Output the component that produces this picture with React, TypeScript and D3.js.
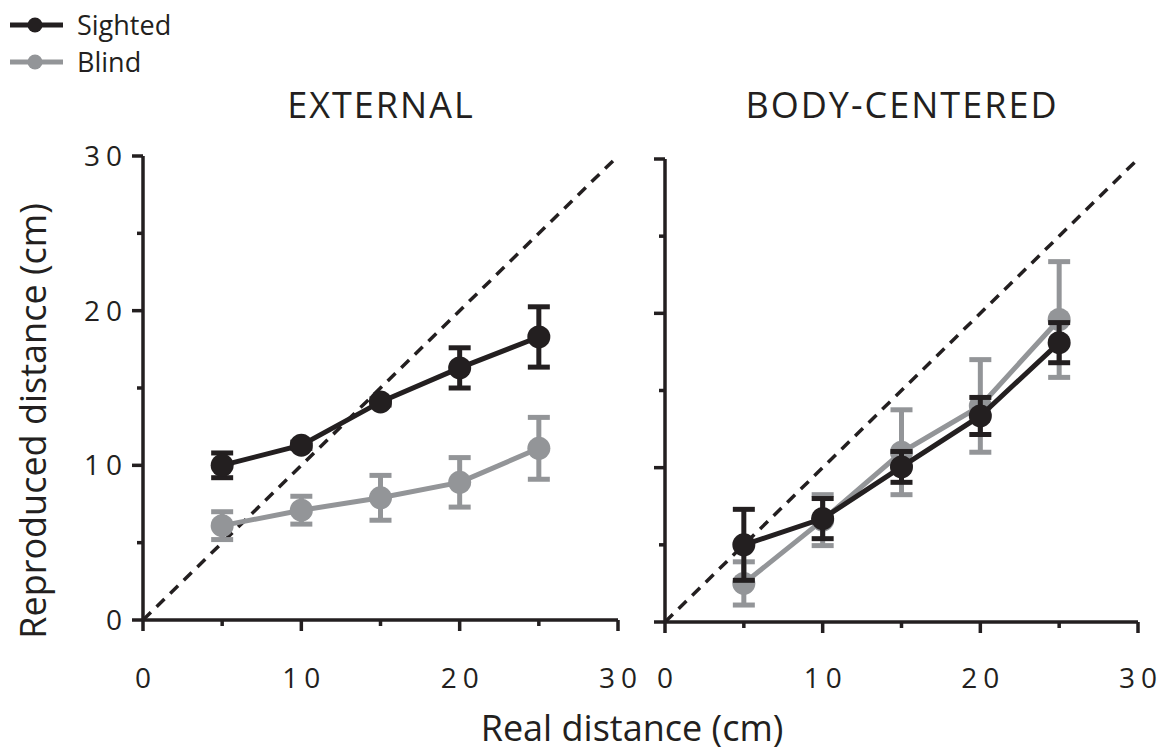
import React from "react";
import * as d3 from "d3";

// ---- Data ----
const realDistance = [5, 10, 15, 20, 25];

const externalSighted = [10.0, 11.3, 14.1, 16.3, 18.3];
const externalSightedErr = [0.8, 0.2, 0.2, 1.3, 1.95];
const externalBlind = [6.1, 7.1, 7.9, 8.9, 11.1];
const externalBlindErr = [0.9, 0.9, 1.45, 1.6, 2.0];

const bodySighted = [5.0, 6.7, 10.05, 13.35, 18.1];
const bodySightedErr = [2.3, 1.3, 1.0, 1.2, 1.3];
const bodyBlind = [2.5, 6.6, 11.0, 14.0, 19.6];
const bodyBlindErr = [1.4, 1.65, 2.75, 3.0, 3.75];

const majorTicks = [0, 10, 20, 30];
const minorTicks = [5, 15, 25];
const tickLabels = ["0", "10", "20", "30"];
const panelTitles = ["EXTERNAL", "BODY-CENTERED"];
const seriesNames = ["Sighted", "Blind"];

const BLACK = "#231f20";
const GRAY = "#939598";
const FONT = "'Open Sans', sans-serif";

type Series = { name: string; values: number[]; errs: number[]; color: string };

type PanelProps = {
  x0: number; x1: number; y0: number; y1: number;
  title: string; titleX: number;
  showYLabels: boolean;
  series: Series[];
};

function Panel({ x0, x1, y0, y1, title, titleX, showYLabels, series }: PanelProps) {
  const x = d3.scaleLinear().domain([0, 30]).range([x0, x1]);
  const y = d3.scaleLinear().domain([0, 30]).range([y0, y1]);
  const line = d3.line<number>().x((_, i) => x(realDistance[i])).y((v) => y(v));
  const capHalf = 11;
  const axisW = 3.5;
  const majorLen = 11;
  const minorLen = 6;
  return (
    <g>
      <text x={titleX} y={118} textAnchor="middle" fontFamily={FONT} fontSize={36}
        letterSpacing={2} fill={BLACK}>{title}</text>
      {/* identity line */}
      <line x1={x(0)} y1={y(0)} x2={x(30)} y2={y(30)} stroke={BLACK} strokeWidth={3.5}
        strokeDasharray="11,8" />
      {/* axes */}
      <line x1={x(0)} y1={y(0)} x2={x(30)} y2={y(0)} stroke={BLACK} strokeWidth={axisW} />
      <line x1={x(0)} y1={y(0)} x2={x(0)} y2={y(30)} stroke={BLACK} strokeWidth={axisW} />
      {majorTicks.map((t) => (
        <g key={"mx" + t}>
          <line x1={x(t)} x2={x(t)} y1={y(0)} y2={y(0) + majorLen} stroke={BLACK} strokeWidth={axisW} />
          <line x1={x(0)} x2={x(0) - majorLen} y1={y(t)} y2={y(t)} stroke={BLACK} strokeWidth={axisW} />
        </g>
      ))}
      {minorTicks.map((t) => (
        <g key={"mn" + t}>
          <line x1={x(t)} x2={x(t)} y1={y(0)} y2={y(0) + minorLen} stroke={BLACK} strokeWidth={axisW} />
          <line x1={x(0)} x2={x(0) - minorLen} y1={y(t)} y2={y(t)} stroke={BLACK} strokeWidth={axisW} />
        </g>
      ))}
      {majorTicks.map((t, i) => (
        <text key={"lx" + t} x={x(t) + 3} y={688} textAnchor="middle" fontFamily={FONT}
          fontSize={28} letterSpacing={6} fill={BLACK}>{tickLabels[i]}</text>
      ))}
      {showYLabels && majorTicks.map((t, i) => (
        <text key={"ly" + t} x={x(0) - 15} y={y(t) + 10} textAnchor="end" fontFamily={FONT}
          fontSize={28} letterSpacing={6} fill={BLACK}>{tickLabels[i]}</text>
      ))}
      {series.map((s) => (
        <g key={s.name}>
          <path d={line(s.values) || ""} fill="none" stroke={s.color} strokeWidth={5} />
          {s.values.map((v, i) => {
            const cx = x(realDistance[i]);
            const hi = y(v + s.errs[i]);
            const lo = y(v - s.errs[i]);
            return (
              <g key={i}>
                <line x1={cx} x2={cx} y1={hi} y2={lo} stroke={s.color} strokeWidth={5} />
                <line x1={cx - capHalf} x2={cx + capHalf} y1={hi} y2={hi} stroke={s.color} strokeWidth={5} />
                <line x1={cx - capHalf} x2={cx + capHalf} y1={lo} y2={lo} stroke={s.color} strokeWidth={5} />
                <circle cx={cx} cy={y(v)} r={11.5} fill={s.color} />
              </g>
            );
          })}
        </g>
      ))}
    </g>
  );
}

export default function App() {
  const leftSeries: Series[] = [
    { name: seriesNames[1], values: externalBlind, errs: externalBlindErr, color: GRAY },
    { name: seriesNames[0], values: externalSighted, errs: externalSightedErr, color: BLACK },
  ];
  const rightSeries: Series[] = [
    { name: seriesNames[1], values: bodyBlind, errs: bodyBlindErr, color: GRAY },
    { name: seriesNames[0], values: bodySighted, errs: bodySightedErr, color: BLACK },
  ];
  const legendColors = [BLACK, GRAY];
  return (
    <svg width={1163} height={753} style={{ position: "absolute", left: 0, top: 0, display: "block", background: "#fff" }}>
      {seriesNames.map((n, i) => (
        <g key={n} transform={`translate(0, ${25 + i * 37})`}>
          <line x1={10} x2={63} y1={0} y2={0} stroke={legendColors[i]} strokeWidth={5} />
          <circle cx={35} cy={0} r={7.5} fill={legendColors[i]} />
          <text x={77} y={10} fontFamily={FONT} fontSize={27} fill={BLACK}>{n}</text>
        </g>
      ))}
      <Panel x0={143} x1={618} y0={620} y1={156} title={panelTitles[0]} titleX={381}
        showYLabels={true} series={leftSeries} />
      <Panel x0={665} x1={1138} y0={622} y1={159} title={panelTitles[1]} titleX={902}
        showYLabels={false} series={rightSeries} />
      <text transform="translate(46, 421) rotate(-90)" textAnchor="middle" fontFamily={FONT}
        fontSize={36} fill={BLACK}>Reproduced distance (cm)</text>
      <text x={632} y={741} textAnchor="middle" fontFamily={FONT} fontSize={36} fill={BLACK}>
        Real distance (cm)</text>
    </svg>
  );
}
